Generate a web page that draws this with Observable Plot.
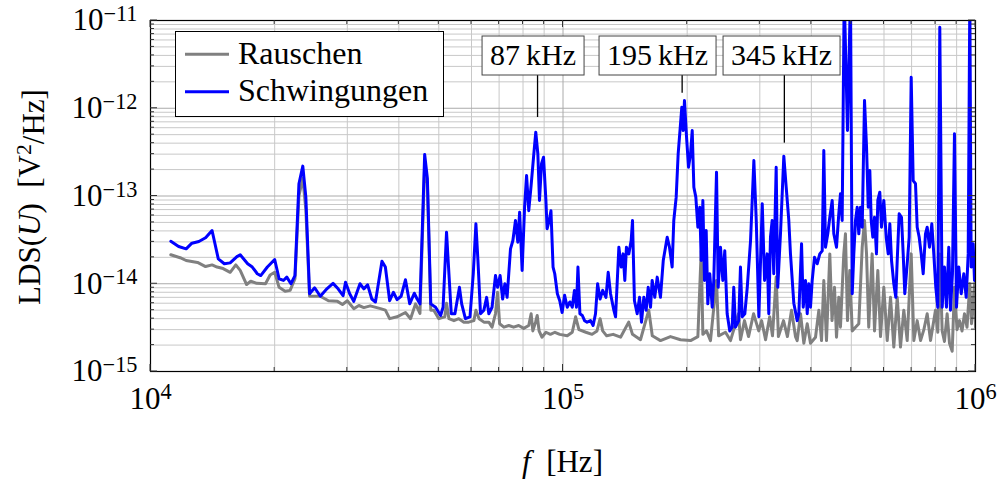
<!DOCTYPE html>
<html><head><meta charset="utf-8">
<script src="https://cdn.jsdelivr.net/npm/d3@7"></script>
<script src="https://cdn.jsdelivr.net/npm/@observablehq/plot@0.6"></script>
<style>
body{margin:0;background:#fff;}
#chart{position:relative;width:1000px;height:479px;}
</style></head><body><div id="chart"></div>
<script>
// Frequencies in kHz, LDS in units of 1e-14 V^2/Hz
const noiseKHz = [11.2,11.8,12.2,13.0,13.6,14.1,14.5,15.0,15.6,16.1,16.5,17.1,17.5,18.1,19.0,19.5,20.0,20.5,21.2,21.8,22.4,22.9,23.4,23.8,24.3,25.8,27.0,28.4,29.2,30.0,31.1,32.0,32.9,34.1,36.1,37.1,38.0,39.6,41.5,42.7,43.9,45.0,46.2,46.9,47.8,
48.6,50.0,51.7,52.2,52.9,54.4,55.9,57.5,59.1,60.8,61.5,62.6,64.3,66.1,67.3,68.6,69.4,70.2,71.9,73.9,75.9,78.1,80.3,82.6,83.7,84.5,85.8,86.6,87.5,88.9,90.9,93.2,95.6,98.2,102.4,105.3,107.3,109.3,113.6,117.6,120.9,123.0,124.8,127.6,132.3,
137.9,144.3,147.4,154.1,161.4,164.6,172.3,182.2,192.7,203.8,212.3,216.3,218.3,222.8,227.8,235.6,238.4,247.7,254.7,266.4,269.3,275.4,281.7,289.7,298.2,303.0,309.8,317.0,322.0,328.7,332.8,342.4,350.0,358.1,366.1,369.6,376.5,
383.6,390.9,398.1,409.4,417.1,423.4,428.8,435.3,443.4,448.9,455.2,460.3,466.2,470.6,479.4,483.9,489.4,495.7,502.5,511.8,521.3,531.3,538.2,544.3,551.0,561.6,569.1,579.7,588.5,599.4,610.9,622.3,633.8,646.0,657.9,670.2,683.0,698.4,708.8,722.2,735.8,749.6,763.6,778.0,799.8,810.2,819.3,830.3,840.9,853.7,864.9,878.0,889.3,902.0,914.6,927.5,940.4,953.8,968.8,977.9,994.4,1000];
const noiseLDS = [2.14,1.98,1.84,1.75,1.57,1.64,1.55,1.49,1.35,1.64,1.42,0.98,1.07,1.01,1.0,1.26,1.35,0.91,0.82,0.84,1.14,10,16,7,0.72,0.72,0.64,0.63,0.58,0.64,0.52,0.565,0.535,0.56,0.52,0.50,0.40,0.42,0.47,0.40,0.59,0.46,22,14,0.50,
0.50,0.40,0.42,0.6,0.40,0.38,0.40,0.365,0.365,0.38,0.5,0.40,0.365,0.365,0.32,0.455,0.80,0.35,0.32,0.334,0.32,0.334,0.31,0.334,0.455,0.29,0.365,0.435,0.29,0.246,0.28,0.265,0.28,0.265,0.255,0.28,0.42,0.30,0.28,0.265,0.29,0.40,0.29,0.255,0.265,
0.246,0.365,0.265,0.23,0.50,0.255,0.225,0.25,0.23,0.225,0.25,2.37,0.265,0.29,0.225,1.09,0.255,0.28,0.225,0.455,0.23,0.38,0.25,0.455,0.29,0.38,0.23,0.42,0.255,1.19,0.25,0.38,0.25,0.50,0.25,0.225,0.455,
0.21,0.35,0.21,0.246,0.50,0.225,1.09,0.225,2.19,0.38,0.91,0.246,0.70,0.32,2.19,3.71,0.38,1.42,0.29,0.32,0.35,2.61,5.26,2.19,0.32,2.19,0.29,1.42,0.25,0.91,0.225,0.70,0.19,0.70,0.19,0.50,0.225,2.19,0.225,0.38,0.225,0.30,0.455,0.225,0.50,0.28,2.19,0.29,0.22,0.455,0.21,0.17,0.91,0.30,0.38,0.29,0.455,0.32,1.0,0.35,1.0,0.32];

const vibKHz = [11.2,11.7,12.2,12.6,13.1,13.6,14.1,14.6,15.1,15.6,16.2,16.5,17.2,17.65,18.15,18.5,19.2,20.0,20.5,21.0,21.4,21.9,22.4,22.9,23.4,23.8,24.3,25.0,25.8,26.8,27.7,28.5,29.3,29.7,30.4,31.1,32.2,32.9,33.6,34.4,35.1,36.4,37.1,38.0,38.8,39.6,40.5,41.5,42.5,43.6,44.3,45.0,46.2,46.9,47.8,
49.1,50.5,51.2,52.2,52.9,53.6,54.7,56.1,56.8,58.0,59.5,60.6,61.5,62.2,63.1,64.3,65.3,66.1,67.3,68.6,69.4,70.4,71.4,72.3,73.2,74.6,75.6,76.7,77.7,78.5,79.6,80.7,81.6,82.6,83.7,84.9,85.9,86.9,87.7,88.7,89.7,90.9,91.5,92.6,93.5,94.6,95.5,96.9,98.2,99.5,100.9,102.4,103.9,105.3,106.6,107.8,108.7,109.9,111.4,112.8,114.4,116.6,118.3,119.9,121.3,123.0,124.8,127.1,128.7,
130.4,132.8,134.1,136.6,138.4,139.9,141.2,142.5,144.4,146.3,147.4,149.0,151.3,153.3,155.0,157.0,159.1,160.9,163.0,164.5,166.9,169.2,172.3,175.0,177.2,178.9,181.2,183.9,185.6,188.1,190.2,192.7,194.1,195.6,197.0,199.3,201.5,203.8,205.7,207.6,209.9,212.3,214.6,216.3,218.3,220.3,222.4,224.4,226.9,230.0,232.0,235.6,237.8,240.9,244.0,246.7,250.0,253.7,257.1,259.4,261.9,266.7,269.3,271.9,275.9,279.7,284.9,290.2,294.1,298.4,304.1,308.1,312.6,315.4,318.4,321.4,324.3,328.7,331.6,336.7,343.0,347.6,352.7,356.0,362.7,369.6,373.0,378.7,382.3,387.2,390.9,394.4,398.1,401.9,407.1,413.3,419.3,425.0,428.8,432.9,438.4,443.4,449.3,453.4,460.3,466.2,470.6,475.1,480.5,489.4,497.7,502.5,507.0,511.8,516.7,521.3,526.3,531.3,538.2,544.3,549.5,554.4,558.7,563.7,569.1,575.4,579.7,586.1,591.7,599.4,607.5,614.3,619.9,625.8,633.8,640.9,646.0,653.1,661.6,667.9,673.9,683.0,690.6,698.4,706.2,715.4,722.2,730.3,738.5,746.8,756.4,763.6,773.5,783.6,792.3,801.3,810.2,819.3,830.3,840.9,850.4,861.4,869.6,879.3,889.3,899.3,911.0,923.3,936.8,949.4,960.1,968.8,976.1,987.1,994.4,1000];
const vibLDS = [3.05,2.66,2.5,2.9,3.03,3.34,4.04,1.92,1.69,1.73,2.04,2.14,1.69,1.55,1.30,1.24,1.55,1.89,1.14,1.09,1.19,1.0,1.24,13.8,21.9,9.7,0.77,0.90,0.72,0.88,1.01,0.875,0.73,1.04,0.77,0.63,1.0,0.875,0.97,0.67,0.62,1.81,1.55,0.64,0.80,0.66,0.72,1.11,0.59,0.78,0.67,0.59,29.7,16,0.59,
0.54,0.435,0.54,3.87,1.30,0.455,0.455,0.91,0.59,0.40,0.42,1.30,4.82,1.84,0.455,0.50,0.70,0.455,0.54,1.24,0.91,1.24,0.67,1.0,0.70,2.5,3.11,5.26,2.98,6.54,1.42,7.45,17.1,6.8,13.2,28.9,53.3,30.3,8.89,23.3,27.7,8.9,4.23,5.26,6.8,1.55,1.30,0.77,0.64,0.47,0.74,0.54,0.62,0.54,0.84,0.54,1.55,0.455,0.435,0.38,0.365,0.38,0.334,0.455,1.0,0.67,0.84,0.70,1.35,
0.77,0.50,0.42,2.61,1.55,2.19,1.09,2.61,2.19,3.11,5.26,0.64,0.455,0.70,0.365,0.70,0.50,0.91,0.54,1.09,0.70,1.19,0.70,1.84,2.61,3.39,2.61,1.55,5.26,9.7,30.3,66.5,102.8,55.7,122.5,46.8,21.3,30.3,55.7,12.6,9.7,4.41,7.45,1.84,8.9,1.09,4.04,0.59,1.30,0.54,1.09,18.7,0.91,2.61,1.09,2.37,0.455,0.29,0.32,0.91,0.32,0.38,1.55,0.42,0.455,0.91,3.11,25.4,5.26,0.42,8.15,1.09,2.19,0.455,3.39,5.26,1.30,21.3,0.91,3.71,28.4,12.6,5.26,2.19,0.6,0.38,0.455,2.85,0.54,1.09,0.455,1.0,0.54,1.09,2.0,1.69,2.19,2.37,33.0,2.61,3.71,5.73,8.9,3.71,2.61,6.27,10.6,5.26,2000,55.7,2000,0.77,2.19,5.26,7.45,3.71,7.45,4.41,122.5,36.0,7.45,19.5,5.26,3.39,5.73,2.19,8.9,11.05,4.41,8.9,3.39,2.19,4.82,1.84,1.0,0.70,1.84,6.27,5.73,2.19,0.77,1.69,3.39,226,15.0,13.8,4.41,3.39,2.19,1.30,3.71,4.41,2.61,4.82,2.19,0.91,0.54,839,0.54,1.55,0.54,2.61,0.50,1.30,51.2,0.54,1.55,0.77,1.30,0.70,2.19,2000,1.55,2.85,1.09,1.3];

const seriesNames = ["Rauschen", "Schwingungen"];
const seriesColors = ["#808080", "#0000ff"];
const peakKHz = [87, 195, 345];
const peakLabels = ["87\u2009kHz", "195\u2009kHz", "345\u2009kHz"];
const peakPinEnd = [78.4, 148, 40]; // LDS (1e-14) where the pin line ends
const xTicks = [1e4, 1e5, 1e6];
const yTicks = [1e-15, 1e-14, 1e-13, 1e-12, 1e-11];

const rows = noiseKHz.map((f, i) => ({f: f * 1000, v: noiseLDS[i] * 1e-14, s: seriesNames[0]}));
const vibRows = vibKHz.map((f, i) => ({f: f * 1000, v: vibLDS[i] * 1e-14, s: seriesNames[1]}));

const minorX = [], minorY = [];
for (let d = 4; d < 6; d++) for (let k = 1; k <= 9; k++) minorX.push(k * 10 ** d);
minorX.push(1e6);
for (let d = -15; d < -11; d++) for (let k = 1; k <= 9; k++) minorY.push(k * 10 ** d);
minorY.push(1e-11);
const isMajor = v => Math.abs(Math.log10(v) - Math.round(Math.log10(v))) < 1e-6;

const fmt = d => "10^" + String(Math.round(Math.log10(d))).replace("-", "\u2212");

const svg = Plot.plot({
  width: 1000, height: 479,
  marginLeft: 150, marginRight: 25, marginTop: 20, marginBottom: 108,
  style: {fontFamily: "'Liberation Serif', serif", fontSize: "31px", color: "#000", background: "#fff"},
  x: {type: "log", domain: [1e4, 1e6], ticks: xTicks, tickFormat: fmt, tickSize: 0, tickPadding: 15, label: null},
  y: {type: "log", domain: [1e-15, 1e-11], ticks: yTicks, tickFormat: fmt, tickSize: 0, tickPadding: 13, label: null},
  marks: [
    Plot.gridX(minorX.filter(v => !isMajor(v)), {stroke: "#c8c8c8", strokeOpacity: 1, strokeWidth: 1}),
    Plot.gridY(minorY.filter(v => !isMajor(v)), {stroke: "#c8c8c8", strokeOpacity: 1, strokeWidth: 1}),
    Plot.gridX(minorX.filter(isMajor), {stroke: "#aaaaaa", strokeOpacity: 1, strokeWidth: 1}),
    Plot.gridY(minorY.filter(isMajor), {stroke: "#aaaaaa", strokeOpacity: 1, strokeWidth: 1}),
    Plot.line(rows, {x: "f", y: "v", stroke: seriesColors[0], strokeWidth: 3, clip: true}),
    Plot.line(vibRows, {x: "f", y: "v", stroke: seriesColors[1], strokeWidth: 3, clip: true}),
    Plot.frame({stroke: "#000", strokeWidth: 1.2})
  ]
});
document.getElementById("chart").appendChild(svg);

const xs = svg.scale("x"), ys = svg.scale("y");
const sel = d3.select(svg);
const NS = "http://www.w3.org/2000/svg";

// superscript tick labels
sel.selectAll("text").each(function() {
  const t = this.textContent;
  const m = /^10\^(.+)$/.exec(t);
  if (m) {
    this.textContent = "10";
    const ts = document.createElementNS(NS, "tspan");
    ts.setAttribute("dy", "-0.42em");
    ts.setAttribute("font-size", "0.72em");
    ts.textContent = m[1];
    this.appendChild(ts);
  }
});

// inward ticks on all four sides
const [x0, x1] = xs.range, [y0, y1] = ys.range; // y0 bottom, y1 top
const tg = sel.append("g").attr("stroke", "#333").attr("stroke-width", 1);
minorX.forEach(v => {
  const px = xs.apply(v), L = isMajor(v) ? 7 : 4;
  tg.append("line").attr("x1", px).attr("x2", px).attr("y1", y0).attr("y2", y0 - L);
  tg.append("line").attr("x1", px).attr("x2", px).attr("y1", y1).attr("y2", y1 + L);
});
minorY.forEach(v => {
  const py = ys.apply(v), L = isMajor(v) ? 7 : 4;
  tg.append("line").attr("y1", py).attr("y2", py).attr("x1", x0).attr("x2", x0 + L);
  tg.append("line").attr("y1", py).attr("y2", py).attr("x1", x1).attr("x2", x1 - L);
});

// peak annotations
const boxShift = [-4.5, -24.6, -2.8];
const boxTop = 36, boxH = 39;
peakKHz.forEach((f, i) => {
  const px = xs.apply(f * 1000);
  sel.append("line").attr("x1", px).attr("x2", px)
    .attr("y1", boxTop + boxH).attr("y2", ys.apply(peakPinEnd[i] * 1e-14))
    .attr("stroke", "#000").attr("stroke-width", 1.3);
  const cx = px + boxShift[i];
  const rect = sel.append("rect").attr("y", boxTop).attr("height", boxH)
    .attr("fill", "#fff").attr("stroke", "#444").attr("stroke-width", 1);
  const txt = sel.append("text").attr("x", cx).attr("y", boxTop + 29)
    .attr("text-anchor", "middle").attr("font-size", 30).attr("fill", "#000").text(peakLabels[i]);
  const w = txt.node().getComputedTextLength() + 16;
  rect.attr("x", cx - w / 2).attr("width", w);
});

// legend
const lg = sel.append("g");
lg.append("rect").attr("x", 175.5).attr("y", 31.5).attr("width", 268).attr("height", 85)
  .attr("fill", "#fff").attr("stroke", "#000").attr("stroke-width", 1);
[54.3, 91.7].forEach((ly, i) => {
  lg.append("line").attr("x1", 185).attr("x2", 229).attr("y1", ly).attr("y2", ly)
    .attr("stroke", seriesColors[i]).attr("stroke-width", 3);
  lg.append("text").attr("x", 238).attr("y", ly + 9.5).attr("text-anchor", "start")
    .attr("font-size", 32).attr("fill", "#000").text(seriesNames[i]);
});

// axis labels
const yl = sel.append("text").attr("transform", "translate(40,197) rotate(-90)")
  .attr("text-anchor", "middle").attr("font-size", 31).attr("fill", "#000");
yl.append("tspan").text("LDS(");
yl.append("tspan").attr("font-style", "italic").text("U");
yl.append("tspan").text(")\u2002[V");
yl.append("tspan").attr("dy", "-0.42em").attr("font-size", "0.7em").text("2");
yl.append("tspan").attr("dy", "0.42em").text("/Hz]");
const xl = sel.append("text").attr("x", (x0 + x1) / 2).attr("y", 472)
  .attr("text-anchor", "middle").attr("font-size", 31).attr("fill", "#000");
xl.append("tspan").attr("font-style", "italic").text("f");
xl.append("tspan").text("\u2002[Hz]");
</script></body></html>
